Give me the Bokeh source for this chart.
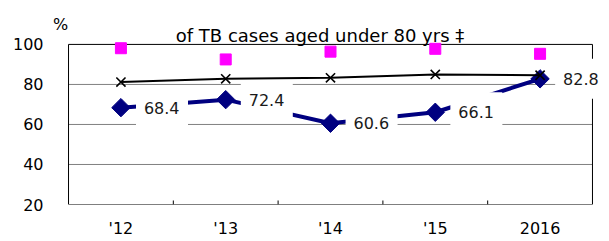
from bokeh.plotting import figure
from bokeh.models import (Range1d, FactorRange, FixedTicker, Label, LabelSet,
                          ColumnDataSource)
from bokeh.core.properties import value
from bokeh.transform import dodge
from bokeh.embed import file_html
from bokeh.resources import INLINE

categories = ["'12", "'13", "'14", "'15", "2016"]
main_pct = [68.4, 72.4, 60.6, 66.1, 82.8]
cross_pct = [81.2, 82.8, 83.3, 85.0, 84.6]
square_pct = [98.1, 92.5, 96.4, 97.8, 95.3]
y_ticks = [20, 40, 60, 80, 100]
title_text = "of TB cases aged under 80 yrs \u2021"
unit_text = "%"

FONT = "DejaVu Sans"
PAD = 17 / 104.6          # horizontal padding (category units)
Y_TOP = 121.95            # visible top of the value range (room for titles)

n = len(categories)
ymin, ymax = y_ticks[0], y_ticks[-1]

p = figure(width=609, height=240, output_backend="svg", toolbar_location=None,
           x_range=FactorRange(*categories, range_padding=PAD,
                               range_padding_units="absolute"),
           y_range=Range1d(ymin, Y_TOP),
           min_border_left=51, min_border_right=0, min_border_top=0,
           min_border_bottom=33)
p.outline_line_color = None
p.background_fill_color = "white"
p.border_fill_color = "white"

# axes (labels only; lines drawn as frame segments)
p.xaxis.axis_line_color = None
p.xaxis.major_tick_line_color = None
p.xaxis.major_tick_out = 0
p.xaxis.major_tick_in = 0
p.xaxis.minor_tick_line_color = None
p.xaxis.major_label_text_font = FONT
p.xaxis.major_label_text_font_size = "16px"
p.xaxis.major_label_text_color = "black"
p.xaxis.major_label_standoff = 14

p.yaxis.ticker = FixedTicker(ticks=y_ticks)
p.yaxis.axis_line_color = None
p.yaxis.major_tick_line_color = None
p.yaxis.major_tick_out = 0
p.yaxis.major_tick_in = 0
p.yaxis.minor_tick_line_color = None
p.yaxis.major_label_text_font = FONT
p.yaxis.major_label_text_font_size = "16px"
p.yaxis.major_label_text_color = "black"
p.yaxis.major_label_standoff = 8

p.xgrid.grid_line_color = None
p.ygrid.grid_line_color = None

# gridlines inside the plot box
inner = y_ticks[1:-1]
p.segment(x0=[0] * len(inner), x1=[n] * len(inner), y0=inner, y1=inner,
          line_color="#808080", line_width=1)
# plot box: left, bottom, top, right
p.segment(x0=[0, 0, 0, n], x1=[0, n, n, n], y0=[ymin, ymin, ymax, ymin],
          y1=[ymax, ymin, ymax, ymax], line_color="black", line_width=1)

# inside tick marks at category boundaries
bounds = list(range(1, n))
p.segment(x0=bounds, x1=bounds, y0=[ymin] * len(bounds),
          y1=[ymin + 2.0] * len(bounds), line_color="black", line_width=1)

src = ColumnDataSource(dict(cat=categories, main=main_pct, cross=cross_pct,
                            sq=square_pct,
                            lbl=[f"{v:.1f}" for v in main_pct]))

# main series
p.line(x="cat", y="main", source=src, line_color="#000080", line_width=4)
p.scatter(x="cat", y="main", source=src, marker="square", angle=0.785398,
          size=13, fill_color="#000080", line_color="#000080")

# white label boxes
p.rect(x=dodge("cat", 0.392, range=p.x_range), y="main", source=src,
       width=52, height=40, width_units="screen", height_units="screen",
       fill_color="white", line_color=None)

# cross series
p.line(x="cat", y="cross", source=src, line_color="black", line_width=2)
p.scatter(x="cat", y="cross", source=src, marker="x", size=13,
          line_color="black", line_width=1.6)

# square series
p.scatter(x="cat", y="sq", source=src, marker="square", size=11,
          fill_color="#FF00FF", line_color="#FF00FF")

p.add_layout(LabelSet(x="cat", y="main", text="lbl", source=src, x_offset=23,
                      text_align="left", text_baseline="middle",
                      text_font=value(FONT), text_font_size=value("16px"),
                      text_color="#1a1a1a"))

p.add_layout(Label(x=2.4, y=104.7, text=title_text, text_align="center",
                   text_baseline="alphabetic", text_font=FONT,
                   text_font_size="18px", text_color="black"))
p.add_layout(Label(x=-0.0765, y=110.1, text=unit_text, text_align="center",
                   text_baseline="alphabetic", text_font=FONT,
                   text_font_size="16px", text_color="black"))

open("out.html", "w").write(file_html(p, INLINE))
